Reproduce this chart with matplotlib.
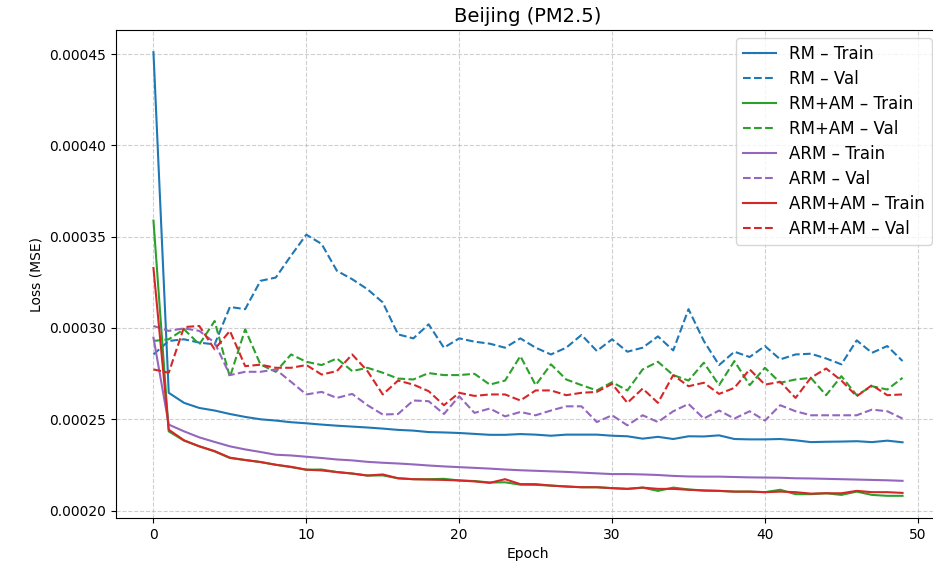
import numpy as np
import matplotlib
matplotlib.use("Agg")
import matplotlib.pyplot as plt

# loss values, in units of 1e-5
epochs = np.arange(50)

rm_train = [45.1, 26.45, 25.9, 25.62, 25.48, 25.29, 25.13, 25.0, 24.93, 24.84,
            24.78, 24.71, 24.65, 24.6, 24.55, 24.49, 24.42, 24.38, 24.30, 24.28,
            24.25, 24.2, 24.15, 24.15, 24.19, 24.16, 24.1, 24.16, 24.16, 24.16,
            24.1, 24.07, 23.94, 24.04, 23.92, 24.07, 24.06, 24.12, 23.92, 23.9,
            23.9, 23.92, 23.85, 23.75, 23.77, 23.78, 23.8, 23.75, 23.83, 23.74]
rm_val = [28.55, 29.29, 29.38, 29.2, 29.1, 31.15, 31.03, 32.58, 32.76, 33.96,
          35.11, 34.6, 33.13, 32.67, 32.12, 31.4, 29.65, 29.43, 30.2, 28.92,
          29.43, 29.25, 29.14, 28.92, 29.43, 28.92, 28.55, 28.92, 29.62, 28.74,
          29.38, 28.7, 28.92, 29.54, 28.77, 31.03, 29.29, 27.97, 28.7, 28.41,
          29.01, 28.28, 28.55, 28.59, 28.33, 28.01, 29.32, 28.64, 29.01, 28.19]

rmam_train = [35.88, 24.34, 23.83, 23.52, 23.24, 22.88, 22.77, 22.66, 22.51, 22.38,
              22.24, 22.25, 22.11, 22.03, 21.92, 21.93, 21.77, 21.72, 21.72, 21.74,
              21.65, 21.62, 21.54, 21.55, 21.42, 21.41, 21.37, 21.32, 21.28, 21.28,
              21.23, 21.19, 21.26, 21.08, 21.26, 21.16, 21.1, 21.08, 21.04, 21.04,
              21.01, 21.14, 20.9, 20.9, 20.95, 20.86, 21.04, 20.86, 20.81, 20.81]
rmam_val = [29.29, 29.38, 29.93, 29.1, 30.38, 27.31, 29.93, 28.0, 27.6, 28.55,
            28.15, 27.97, 28.33, 27.64, 27.82, 27.55, 27.23, 27.18, 27.53, 27.42,
            27.42, 27.49, 26.9, 27.12, 28.46, 26.87, 28.01, 27.18, 26.87, 26.58,
            27.03, 26.58, 27.73, 28.15, 27.42, 27.12, 28.1, 26.87, 28.19, 26.87,
            27.82, 27.0, 27.18, 27.27, 26.32, 27.36, 26.32, 26.81, 26.63, 27.27]

arm_train = [29.47, 24.71, 24.34, 24.01, 23.76, 23.52, 23.35, 23.21, 23.06, 23.02,
             22.95, 22.88, 22.8, 22.75, 22.67, 22.62, 22.58, 22.53, 22.47, 22.42,
             22.38, 22.34, 22.3, 22.25, 22.21, 22.18, 22.15, 22.12, 22.08, 22.04,
             22.0, 22.0, 21.98, 21.95, 21.9, 21.87, 21.86, 21.86, 21.84, 21.82,
             21.81, 21.8, 21.77, 21.76, 21.74, 21.72, 21.7, 21.68, 21.66, 21.63]
arm_val = [30.11, 29.84, 29.98, 29.84, 29.2, 27.42, 27.6, 27.6, 27.73, 27.05,
           26.36, 26.5, 26.17, 26.39, 25.77, 25.26, 25.29, 26.03, 25.99, 25.29,
           26.26, 25.35, 25.59, 25.16, 25.4, 25.22, 25.48, 25.71, 25.71, 24.85,
           25.22, 24.67, 25.22, 24.85, 25.44, 25.84, 25.04, 25.48, 25.04, 25.44,
           24.93, 25.77, 25.44, 25.22, 25.22, 25.22, 25.22, 25.53, 25.44, 25.04]

armam_train = [33.28, 24.43, 23.85, 23.52, 23.26, 22.9, 22.77, 22.66, 22.51, 22.4,
               22.24, 22.2, 22.11, 22.03, 21.92, 21.98, 21.77, 21.72, 21.7, 21.68,
               21.65, 21.6, 21.52, 21.72, 21.45, 21.45, 21.37, 21.32, 21.28, 21.28,
               21.23, 21.19, 21.26, 21.19, 21.19, 21.14, 21.1, 21.08, 21.04, 21.04,
               21.01, 21.04, 21.01, 20.93, 20.95, 20.95, 21.08, 21.01, 21.01, 20.97]
armam_val = [27.73, 27.55, 30.05, 30.11, 28.83, 29.84, 27.91, 27.99, 27.82, 27.82,
             27.97, 27.45, 27.64, 28.55, 27.64, 26.36, 27.12, 26.9, 26.54, 25.77,
             26.45, 26.28, 26.36, 26.36, 26.03, 26.58, 26.58, 26.32, 26.45, 26.5,
             26.94, 25.9, 26.68, 25.9, 27.42, 26.81, 27.0, 26.39, 26.72, 27.73,
             26.9, 27.05, 26.17, 27.27, 27.78, 27.12, 26.26, 26.87, 26.32, 26.36]

models = ["RM", "RM+AM", "ARM", "ARM+AM"]
colors = ["#1f77b4", "#2ca02c", "#9467bd", "#d62728"]
train = [rm_train, rmam_train, arm_train, armam_train]
val = [rm_val, rmam_val, arm_val, armam_val]

fig = plt.figure(figsize=(9.33, 5.76), dpi=100)
# right edge of the axes runs slightly past the canvas, as in the reference
ax = fig.add_axes([116 / 933, 58 / 576, 824 / 933, 488 / 576])

for name, c, tr, va in zip(models, colors, train, val):
    ax.plot(epochs, np.array(tr) * 1e-5, color=c, linestyle="-", label=f"{name} – Train")
    ax.plot(epochs, np.array(va) * 1e-5, color=c, linestyle="--", label=f"{name} – Val")

ax.set_title("Beijing (PM2.5)", fontsize=14)
ax.set_xlabel("Epoch")
ax.set_ylabel("Loss (MSE)")
ax.grid(True, linestyle="--", alpha=0.6)
ax.legend(loc="upper right", fontsize=12, labelspacing=0.42)

fig.savefig("out.png", dpi=100)
